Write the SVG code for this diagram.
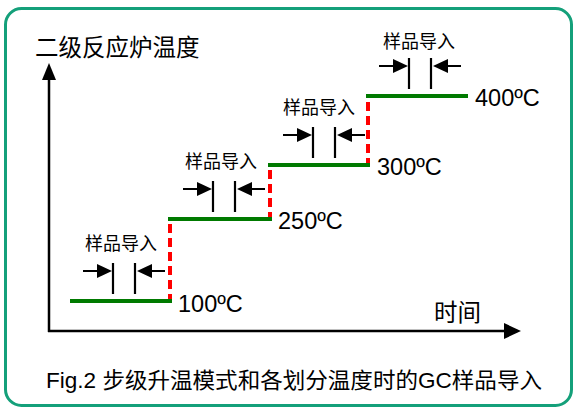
<svg xmlns="http://www.w3.org/2000/svg" xmlns:xlink="http://www.w3.org/1999/xlink" width="574" height="409" viewBox="0 0 574 409">
<style>
.t{font-family:"Liberation Sans","Noto Sans CJK SC",sans-serif;fill:#000}
.cjk{font-family:"Noto Sans CJK SC","Liberation Sans",sans-serif;fill:#000}
.lvl{stroke:#007a00;stroke-width:4;fill:none}
.rise{stroke:#ff0000;stroke-width:4;fill:none;stroke-dasharray:9,5}
.ax{stroke:#000;stroke-width:2.5;fill:none}
.mk{stroke:#000;stroke-width:2.2;fill:none}
</style>
<defs>
<g id="inj">
<path class="mk" d="M13,-30H30M43,-38V-7M65,-38V-7M79,-30H95"/>
<polygon points="27,-37 42,-30 27,-23" fill="#000"/>
<polygon points="67,-30 82,-37 82,-23" fill="#000"/>
</g>
</defs>
<rect x="5.5" y="8.5" width="566" height="397" rx="16" ry="16" fill="#fff" stroke="#14a07a" stroke-width="3"/>
<g id="axes">
<path class="ax" d="M49,332V76M48,331H508"/>
<polygon points="49,63 42,80 56,80" fill="#000"/>
<polygon points="521,331 504,323 504,339" fill="#000"/>
<text class="cjk" x="35" y="56" font-size="23.5">二级反应炉温度</text>
<text class="cjk" x="434" y="321" font-size="23.5">时间</text>
</g>
<g id="connectors">
<path class="rise" d="M170,303V219"/>
<path class="rise" d="M270,221V165"/>
<path class="rise" d="M368,167V96"/>
</g>
<g id="step1">
<path class="lvl" d="M70,301H172"/>
<use xlink:href="#inj" transform="translate(70,301)"/>
<text class="cjk" x="121" y="250" font-size="18" text-anchor="middle">样品导入</text>
<text class="t" x="178" y="312" font-size="23.5">100ºC</text>
</g>
<g id="step2">
<path class="lvl" d="M168,219H272"/>
<use xlink:href="#inj" transform="translate(170,219)"/>
<text class="cjk" x="221" y="168" font-size="18" text-anchor="middle">样品导入</text>
<text class="t" x="278" y="229" font-size="23.5">250ºC</text>
</g>
<g id="step3">
<path class="lvl" d="M268,165H370"/>
<use xlink:href="#inj" transform="translate(270,165)"/>
<text class="cjk" x="319" y="114" font-size="18" text-anchor="middle">样品导入</text>
<text class="t" x="377" y="175" font-size="23.5">300ºC</text>
</g>
<g id="step4">
<path class="lvl" d="M366,96H468"/>
<use xlink:href="#inj" transform="translate(366,96)"/>
<text class="cjk" x="419" y="48" font-size="18" text-anchor="middle">样品导入</text>
<text class="t" x="475" y="106" font-size="23.5">400ºC</text>
</g>
<text class="t" x="46" y="388" font-size="22" textLength="496" lengthAdjust="spacingAndGlyphs">Fig.2 步级升温模式和各划分温度时的GC样品导入</text>
</svg>
